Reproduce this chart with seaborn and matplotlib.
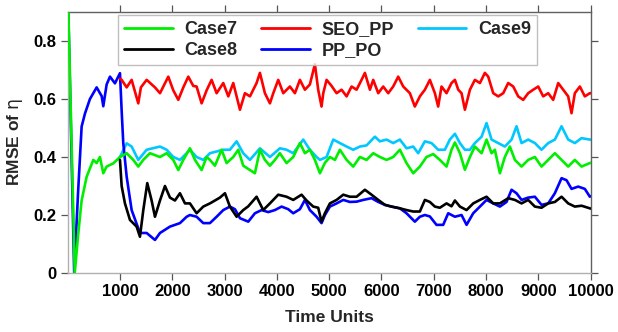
import matplotlib
matplotlib.use("Agg")
import matplotlib.pyplot as plt
import seaborn as sns
import numpy as np

# ---------------- data ----------------
case7_t = [0, 135, 203, 267, 363, 490, 554, 617, 681, 745, 872, 1000, 1128, 1254, 1350, 1446, 1573,
           1765, 1892, 2019, 2115, 2211, 2338, 2434, 2561, 2657, 2720, 2816, 2943, 3039, 3166, 3262,
           3357, 3485, 3580, 3676, 3771, 3867, 3962, 4058, 4185, 4313, 4440, 4536, 4631, 4727, 4823,
           4919, 5014, 5110, 5205, 5333, 5460, 5587, 5715, 5842, 5970, 6097, 6224, 6352, 6479, 6607,
           6734, 6861, 6989, 7116, 7244, 7339, 7404, 7500, 7595, 7691, 7786, 7914, 8009, 8105, 8168,
           8264, 8359, 8455, 8551, 8678, 8805, 8933, 9060, 9188, 9315, 9443, 9570, 9697, 9825, 9984,
           10000]
case7_v = [1.0, 0.0, 0.137, 0.25, 0.332, 0.39, 0.379, 0.40, 0.344, 0.367, 0.378, 0.40, 0.413, 0.39,
           0.367, 0.39, 0.413, 0.40, 0.413, 0.39, 0.355, 0.39, 0.43, 0.39, 0.355, 0.40, 0.39, 0.37,
           0.425, 0.379, 0.40, 0.425, 0.37, 0.355, 0.344, 0.425, 0.39, 0.37, 0.39, 0.413, 0.379,
           0.40, 0.448, 0.413, 0.425, 0.39, 0.344, 0.38, 0.40, 0.39, 0.425, 0.39, 0.367, 0.40, 0.39,
           0.413, 0.40, 0.39, 0.40, 0.425, 0.379, 0.344, 0.367, 0.40, 0.41, 0.39, 0.367, 0.425,
           0.45, 0.413, 0.356, 0.40, 0.436, 0.413, 0.46, 0.413, 0.425, 0.344, 0.40, 0.436, 0.39,
           0.367, 0.39, 0.40, 0.367, 0.39, 0.413, 0.39, 0.367, 0.39, 0.367, 0.379, 0.38]

case8_t = [1000, 1032, 1095, 1191, 1318, 1382, 1446, 1522, 1605, 1669, 1765, 1860, 1956, 2051, 2147,
           2243, 2338, 2465, 2593, 2720, 2816, 2911, 3007, 3102, 3230, 3357, 3453, 3612, 3739, 3867,
           4026, 4185, 4313, 4472, 4568, 4695, 4790, 4854, 4918, 5014, 5142, 5269, 5396, 5524, 5683,
           5810, 5938, 6065, 6192, 6352, 6479, 6607, 6734, 6830, 6925, 7021, 7116, 7244, 7339, 7404,
           7500, 7627, 7754, 7882, 8009, 8137, 8264, 8423, 8551, 8678, 8805, 8933, 9060, 9188, 9315,
           9443, 9570, 9697, 9825, 9984, 10000]
case8_v = [0.39, 0.30, 0.24, 0.183, 0.16, 0.125, 0.217, 0.31, 0.25, 0.194, 0.25, 0.30, 0.26, 0.25,
           0.275, 0.24, 0.24, 0.206, 0.229, 0.24, 0.25, 0.26, 0.275, 0.229, 0.194, 0.217, 0.23,
           0.263, 0.217, 0.24, 0.27, 0.263, 0.252, 0.27, 0.25, 0.229, 0.225, 0.177, 0.206, 0.24,
           0.252, 0.27, 0.263, 0.263, 0.287, 0.27, 0.252, 0.235, 0.229, 0.223, 0.217, 0.212, 0.212,
           0.252, 0.245, 0.229, 0.225, 0.24, 0.23, 0.25, 0.229, 0.217, 0.24, 0.252, 0.263, 0.24,
           0.24, 0.258, 0.252, 0.24, 0.252, 0.229, 0.225, 0.24, 0.245, 0.263, 0.24, 0.229, 0.232,
           0.223, 0.222]

seo_t = [1000, 1032, 1128, 1223, 1350, 1400, 1510, 1669, 1765, 1924, 2019, 2115, 2211, 2306, 2402,
         2465, 2561, 2657, 2752, 2848, 2975, 3071, 3166, 3294, 3389, 3485, 3612, 3676, 3771, 3867,
         3931, 4026, 4122, 4249, 4345, 4440, 4536, 4631, 4727, 4790, 4854, 4887, 4950, 5046, 5142,
         5237, 5333, 5428, 5524, 5619, 5683, 5779, 5842, 5938, 6033, 6129, 6224, 6320, 6416, 6543,
         6638, 6734, 6830, 6925, 7021, 7084, 7148, 7244, 7339, 7404, 7468, 7531, 7595, 7691, 7786,
         7882, 7977, 8041, 8137, 8232, 8328, 8423, 8519, 8614, 8710, 8805, 8901, 8997, 9092, 9188,
         9283, 9379, 9474, 9570, 9634, 9697, 9793, 9888, 9984, 10000]
seo_v = [0.67, 0.666, 0.64, 0.666, 0.585, 0.64, 0.666, 0.64, 0.62, 0.677, 0.63, 0.597, 0.64, 0.677,
         0.645, 0.643, 0.585, 0.63, 0.666, 0.62, 0.655, 0.609, 0.655, 0.563, 0.62, 0.609, 0.655,
         0.69, 0.62, 0.585, 0.62, 0.666, 0.62, 0.643, 0.62, 0.666, 0.632, 0.65, 0.72, 0.632, 0.574,
         0.62, 0.666, 0.645, 0.62, 0.632, 0.609, 0.643, 0.632, 0.666, 0.69, 0.632, 0.666, 0.62,
         0.643, 0.62, 0.643, 0.677, 0.643, 0.62, 0.574, 0.609, 0.632, 0.666, 0.62, 0.574, 0.643,
         0.62, 0.655, 0.666, 0.632, 0.62, 0.563, 0.632, 0.666, 0.655, 0.69, 0.677, 0.62, 0.609,
         0.62, 0.655, 0.643, 0.609, 0.597, 0.62, 0.632, 0.643, 0.609, 0.62, 0.597, 0.655, 0.632,
         0.609, 0.551, 0.62, 0.643, 0.609, 0.62, 0.62]

pppo_t = [0, 125, 198, 267, 331, 426, 490, 554, 650, 681, 745, 809, 904, 1000, 1032, 1063, 1128,
          1223, 1382, 1510, 1669, 1765, 1956, 2147, 2275, 2338, 2465, 2593, 2720, 2848, 2975, 3102,
          3198, 3294, 3453, 3580, 3708, 3835, 3962, 4090, 4217, 4313, 4440, 4536, 4631, 4759, 4854,
          4919, 5014, 5142, 5269, 5396, 5524, 5651, 5810, 5938, 6065, 6192, 6352, 6479, 6638, 6734,
          6830, 6925, 7052, 7180, 7276, 7404, 7531, 7627, 7754, 7882, 8009, 8137, 8264, 8391, 8487,
          8582, 8678, 8805, 8933, 9060, 9188, 9315, 9443, 9538, 9634, 9761, 9888, 9984, 10000]
pppo_v = [1.0, 0.0, 0.275, 0.505, 0.55, 0.60, 0.62, 0.64, 0.61, 0.575, 0.65, 0.677, 0.654, 0.689,
          0.56, 0.448, 0.332, 0.217, 0.138, 0.138, 0.114, 0.138, 0.16, 0.172, 0.194, 0.20, 0.194,
          0.172, 0.172, 0.194, 0.217, 0.229, 0.22, 0.189, 0.177, 0.206, 0.217, 0.21, 0.217, 0.229,
          0.22, 0.206, 0.22, 0.252, 0.217, 0.194, 0.172, 0.20, 0.229, 0.24, 0.252, 0.245, 0.246,
          0.252, 0.258, 0.245, 0.235, 0.229, 0.223, 0.206, 0.177, 0.194, 0.20, 0.195, 0.166, 0.166,
          0.206, 0.194, 0.20, 0.166, 0.206, 0.229, 0.252, 0.24, 0.229, 0.245, 0.287, 0.275, 0.252,
          0.26, 0.263, 0.235, 0.24, 0.275, 0.327, 0.32, 0.29, 0.298, 0.29, 0.263, 0.265]

case9_t = [1000, 1128, 1223, 1350, 1510, 1765, 1892, 2019, 2147, 2275, 2338, 2465, 2593, 2720, 2975,
           3102, 3230, 3357, 3485, 3676, 3867, 4058, 4185, 4313, 4504, 4631, 4759, 4823, 4950, 5078,
           5205, 5333, 5460, 5587, 5715, 5874, 5970, 6097, 6224, 6352, 6479, 6607, 6702, 6830, 6957,
           7084, 7212, 7307, 7404, 7500, 7595, 7691, 7786, 7914, 8009, 8105, 8232, 8359, 8487, 8582,
           8678, 8805, 8933, 9060, 9188, 9315, 9443, 9570, 9697, 9825, 9984, 10000]
case9_v = [0.40, 0.447, 0.436, 0.39, 0.425, 0.436, 0.425, 0.40, 0.39, 0.413, 0.425, 0.40, 0.39,
           0.413, 0.425, 0.425, 0.454, 0.413, 0.39, 0.43, 0.40, 0.43, 0.425, 0.413, 0.46, 0.425,
           0.40, 0.39, 0.40, 0.46, 0.448, 0.436, 0.425, 0.436, 0.44, 0.47, 0.454, 0.46, 0.448, 0.46,
           0.43, 0.436, 0.413, 0.454, 0.448, 0.425, 0.425, 0.46, 0.48, 0.448, 0.425, 0.425, 0.448,
           0.47, 0.517, 0.46, 0.448, 0.436, 0.46, 0.506, 0.448, 0.46, 0.448, 0.425, 0.448, 0.46,
           0.506, 0.46, 0.448, 0.465, 0.46, 0.46]

x_ticks = [1000, 2000, 3000, 4000, 5000, 6000, 7000, 8000, 9000, 10000]
y_ticks = [0, 0.2, 0.4, 0.6, 0.8]
y_tick_labels = ["0", "0.2", "0.4", "0.6", "0.8"]

series = [
    ("Case7", case7_t, case7_v, "#00ee00"),
    ("Case8", case8_t, case8_v, "#000000"),
    ("SEO_PP", seo_t, seo_v, "#ff0000"),
    ("PP_PO", pppo_t, pppo_v, "#0000ff"),
    ("Case9", case9_t, case9_v, "#00c8ff"),
]

# ---------------- figure ----------------
sns.set_theme(style="ticks")
plt.rcParams["font.family"] = ["Liberation Sans", "DejaVu Sans"]
plt.rcParams["mathtext.fontset"] = "dejavusans"

fig = plt.figure(figsize=(6.18, 3.32), dpi=100)
ax = fig.add_axes([0.1095, 0.1777, 0.8463, 0.7862])

zorders = {"Case9": 1, "PP_PO": 2, "Case7": 3, "Case8": 4, "SEO_PP": 5}
for name, t, v, c in series:
    sns.lineplot(x=t, y=v, ax=ax, color=c, lw=1.9, label=name, estimator=None,
                 sort=False, zorder=zorders[name])

ax.set_xlim(0, 10000)
ax.set_ylim(0, 0.9)
ax.set_xticks(x_ticks)
ax.set_xticklabels([str(x) for x in x_ticks])
ax.set_yticks(y_ticks)
ax.set_yticklabels(y_tick_labels)

ax.tick_params(axis="both", which="both", direction="out", length=5, width=0.9,
               colors="#555555", labelcolor="black", labelsize=12,
               top=True, right=True, pad=3)
for lab in ax.get_xticklabels() + ax.get_yticklabels():
    lab.set_fontweight("bold")

for side in ["left", "bottom"]:
    ax.spines[side].set_color("#b0b0b0")
    ax.spines[side].set_linewidth(1.0)
for side in ["top", "right"]:
    ax.spines[side].set_visible(True)
    ax.spines[side].set_color("#606060")
    ax.spines[side].set_linewidth(1.0)

ax.set_xlabel("Time Units", fontsize=12.5, fontweight="bold", labelpad=8)
ax.set_ylabel(r"RMSE of $\mathrm{\eta}$", fontsize=12.5, fontweight="bold", labelpad=6)

leg = ax.legend(loc="upper left", bbox_to_anchor=(0.096, 0.9885), borderaxespad=0,
                ncol=3, fontsize=13, frameon=True, fancybox=False,
                handlelength=2.7, handletextpad=0.65, columnspacing=1.3,
                labelspacing=0.2, borderpad=0.35)
leg.get_frame().set_edgecolor("#b0b0b0")
leg.get_frame().set_linewidth(1.0)
for txt in leg.get_texts():
    txt.set_fontweight("bold")
for line in leg.get_lines():
    line.set_linewidth(2.0)

fig.savefig("out.png", dpi=100)
